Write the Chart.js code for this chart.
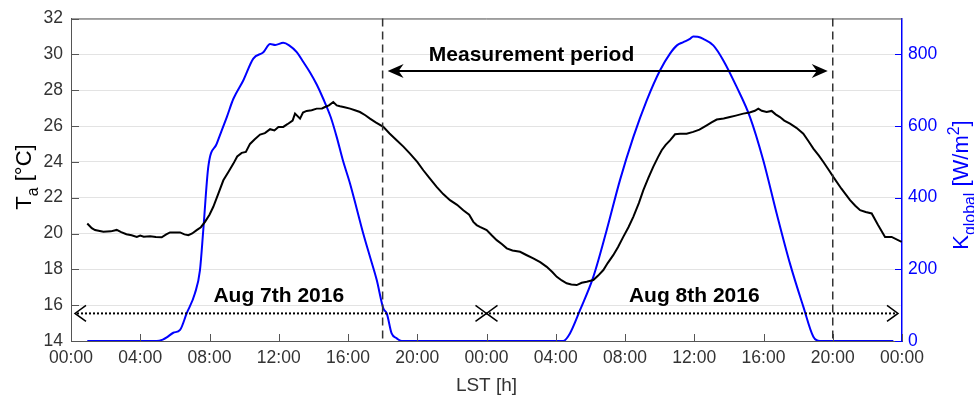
<!DOCTYPE html>
<html>
<head>
<meta charset="utf-8">
<script src="https://cdn.jsdelivr.net/npm/chart.js@4"></script>
<style>
  html, body { margin: 0; padding: 0; background: #fff; }
  #wrap { width: 974px; height: 395px; }
</style>
</head>
<body>
<div id="wrap"><canvas id="tempChart"></canvas></div>
<script>
// ---- data (hours since Aug 7th 00:00 LST) ----
const tempHours = [0.94, 1.2, 1.39, 1.87, 2.3, 2.64, 2.9, 3.2, 3.5, 3.8, 4.0, 4.2, 4.57, 4.9, 5.24, 5.5, 5.72, 6.3, 6.55, 6.78,
  7.0, 7.26, 7.5, 7.74, 8.0, 8.22, 8.5, 8.8, 9.1, 9.38, 9.6, 9.86, 10.1, 10.34, 10.6, 10.92, 11.2, 11.5, 11.75, 11.98,
  12.26, 12.5, 12.8, 12.94, 13.23, 13.4, 13.61, 13.9, 14.19, 14.5, 14.67, 14.9, 15.15, 15.35, 15.54, 15.8, 16.12, 16.4, 16.69, 17.0,
  17.27, 17.6, 18.04, 18.4, 18.81, 19.2, 19.58, 20.0, 20.35, 20.7, 21.12, 21.5, 21.89, 22.3, 22.66, 23.0, 23.24, 23.43, 23.62, 24.01,
  24.3, 24.59, 24.9, 25.17, 25.5, 25.94, 26.3, 26.7, 27.1, 27.48, 27.8, 28.06, 28.35, 28.63, 28.9, 29.21, 29.5, 29.79, 30.17, 30.45,
  30.75, 31.0, 31.32, 31.6, 31.9, 32.2, 32.48, 32.8, 33.06, 33.35, 33.63, 33.9, 34.12, 34.35, 34.6, 34.89, 35.18, 35.56, 35.94, 36.3,
  36.72, 37.0, 37.3, 37.7, 38.06, 38.4, 38.83, 39.2, 39.5, 39.7, 39.9, 40.18, 40.47, 40.7, 40.95, 41.2, 41.53, 41.9, 42.3, 42.6,
  42.88, 43.2, 43.46, 43.8, 44.03, 44.5, 45.0, 45.3, 45.58, 45.9, 46.25, 46.6, 47.02, 47.4, 47.98];
const tempVals = [20.56, 20.3, 20.19, 20.1, 20.12, 20.2, 20.08, 19.96, 19.9, 19.81, 19.88, 19.82, 19.85, 19.8, 19.79, 19.95, 20.06, 20.06, 19.95, 19.91,
  20.0, 20.19, 20.35, 20.65, 21.05, 21.49, 22.2, 22.97, 23.45, 23.9, 24.3, 24.5, 24.55, 25.0, 25.25, 25.52, 25.6, 25.82, 25.75, 25.95,
  25.95, 26.1, 26.3, 26.69, 26.41, 26.75, 26.84, 26.88, 26.97, 26.98, 27.06, 27.15, 27.34, 27.15, 27.1, 27.05, 26.97, 26.88, 26.78, 26.6,
  26.41, 26.2, 25.95, 25.58, 25.2, 24.85, 24.46, 24.0, 23.53, 23.1, 22.6, 22.2, 21.86, 21.6, 21.3, 21.05, 20.65, 20.47, 20.37, 20.19,
  19.9, 19.63, 19.4, 19.17, 19.05, 18.98, 18.8, 18.61, 18.4, 18.14, 17.85, 17.58, 17.38, 17.22, 17.15, 17.12, 17.25, 17.31, 17.4, 17.65,
  17.96, 18.35, 18.79, 19.25, 19.81, 20.35, 20.93, 21.7, 22.42, 23.1, 23.72, 24.25, 24.65, 24.95, 25.2, 25.54, 25.57, 25.57, 25.67, 25.8,
  26.04, 26.2, 26.36, 26.42, 26.5, 26.58, 26.69, 26.75, 26.85, 26.97, 26.85, 26.78, 26.84, 26.65, 26.5, 26.3, 26.13, 25.9, 25.57, 25.15,
  24.74, 24.35, 23.99, 23.5, 23.16, 22.5, 21.86, 21.55, 21.3, 21.2, 21.12, 20.5, 19.81, 19.81, 19.53];

const radHours = [0.94, 4.95, 5.3, 5.53, 5.91, 6.3, 6.68, 7.16, 7.45, 7.64, 7.93, 8.42, 9.0, 9.38, 9.95, 10.53, 11.11, 11.5, 11.8, 12.26,
  12.6, 13.04, 13.4, 13.8, 14.2, 14.57, 15.0, 15.35, 15.7, 16.12, 16.5, 16.88, 17.3, 17.66, 18.04, 18.24, 18.52, 18.8, 19.1,
  28.44, 28.82, 29.4, 30.17, 30.94, 31.71, 32.48, 33.25, 34.02, 34.6, 35.0, 35.37, 35.75, 35.94, 36.2, 36.52, 37.1, 37.68, 38.45, 39.22,
  39.99, 40.76, 41.53, 42.3, 42.88, 43.26, 47.5];
const radVals = [0, 0, 4, 10, 23, 31, 77, 133, 198, 309, 486, 551, 625, 676, 727, 788, 806, 829, 826, 832,
  825, 806, 780, 750, 715, 676, 625, 569, 505, 439, 370, 300, 230, 170, 91, 77, 21, 8, 0,
  0, 21, 86, 179, 309, 449, 569, 671, 755, 802, 825, 834, 843, 850, 849, 843, 825, 783, 709, 625,
  504, 356, 216, 96, 12, 0, 0];

const hourTicks = [0, 4, 8, 12, 16, 20, 24, 28, 32, 36, 40, 44, 48];
const tempTicks = [14, 16, 18, 20, 22, 24, 26, 28, 30, 32];
const radTicks = [0, 200, 400, 600, 800];

// annotation anchors (hours / deg C)
const periodStart = 18;
const periodEnd = 44;
const periodArrowT = 29.07;
const periodLabel = { text: 'Measurement period', h: 26.6, t: 29.62 };
const dayArrowT = 15.54;
const dayLabels = [
  { text: 'Aug 7th 2016', h: 12, t: 16.19 },
  { text: 'Aug 8th 2016', h: 36, t: 16.19 }
];

const axisGray = '#555';
const tickGray = '#333';
const kBlue = '#0000ff';
const fontFam = '"Liberation Sans", Arial, Helvetica, sans-serif';

function hhmm(v) {
  const h = v % 24;
  return (h < 10 ? '0' : '') + h + ':00';
}

// draw text made of normal / sub / sup parts, centred on 0, baseline at 0
function drawRich(ctx, parts, size, color) {
  const subSize = size * 0.72;
  let total = 0;
  parts.forEach(p => {
    ctx.font = (p.sub || p.sup ? subSize : size) + 'px ' + fontFam;
    p.w = ctx.measureText(p.t).width;
    total += p.w;
  });
  let x = -total / 2;
  ctx.fillStyle = color;
  ctx.textAlign = 'left';
  ctx.textBaseline = 'alphabetic';
  parts.forEach(p => {
    ctx.font = (p.sub || p.sup ? subSize : size) + 'px ' + fontFam;
    const dy = p.sub ? size * 0.3 : (p.sup ? -size * 0.42 : 0);
    ctx.fillText(p.t, x, dy);
    x += p.w;
  });
}

function openHead(ctx, x, y, dir) {
  ctx.beginPath();
  ctx.moveTo(x - dir * 11, y - 8);
  ctx.lineTo(x, y);
  ctx.lineTo(x - dir * 11, y + 8);
  ctx.stroke();
}

function filledHead(ctx, x, y, dir) {
  ctx.beginPath();
  ctx.moveTo(x, y);
  ctx.lineTo(x - dir * 16, y - 7);
  ctx.lineTo(x - dir * 11, y);
  ctx.lineTo(x - dir * 16, y + 7);
  ctx.closePath();
  ctx.fill();
}

const annotations = {
  id: 'annotations',
  afterDatasetsDraw(chart) {
    const { ctx, chartArea: a } = chart;
    const xs = chart.scales.x, ys = chart.scales.y, ks = chart.scales.y1;
    ctx.save();

    // top box edge
    ctx.strokeStyle = axisGray;
    ctx.lineWidth = 1;
    ctx.beginPath();
    ctx.moveTo(a.left, a.top + 0.5);
    ctx.lineTo(a.right, a.top + 0.5);
    ctx.stroke();

    // inward tick marks
    ctx.beginPath();
    hourTicks.forEach(v => {
      const px = Math.round(xs.getPixelForValue(v)) + 0.5;
      ctx.moveTo(px, a.bottom);
      ctx.lineTo(px, a.bottom - 7);
    });
    tempTicks.forEach(v => {
      const py = Math.round(ys.getPixelForValue(v)) + 0.5;
      ctx.moveTo(a.left, py);
      ctx.lineTo(a.left + 8, py);
    });
    ctx.stroke();
    ctx.strokeStyle = kBlue;
    ctx.beginPath();
    radTicks.forEach(v => {
      const py = Math.round(ks.getPixelForValue(v)) + 0.5;
      ctx.moveTo(a.right, py);
      ctx.lineTo(a.right - 7, py);
    });
    ctx.stroke();

    // measurement period boundaries
    ctx.strokeStyle = '#333';
    ctx.lineWidth = 1.5;
    ctx.setLineDash([8, 5]);
    [periodStart, periodEnd].forEach(h => {
      const px = xs.getPixelForValue(h);
      ctx.beginPath();
      ctx.moveTo(px, a.top);
      ctx.lineTo(px, a.bottom);
      ctx.stroke();
    });

    // measurement period arrow
    ctx.setLineDash([]);
    ctx.strokeStyle = '#000';
    ctx.fillStyle = '#000';
    ctx.lineWidth = 1.8;
    const py = ys.getPixelForValue(periodArrowT);
    const x1 = xs.getPixelForValue(periodStart) + 5;
    const x2 = xs.getPixelForValue(periodEnd) - 5;
    ctx.beginPath();
    ctx.moveTo(x1 + 8, py);
    ctx.lineTo(x2 - 8, py);
    ctx.stroke();
    filledHead(ctx, x1, py, -1);
    filledHead(ctx, x2, py, 1);

    // day arrows (dotted)
    const dy = ys.getPixelForValue(dayArrowT);
    const d0 = xs.getPixelForValue(0) + 4;
    const dm = xs.getPixelForValue(24);
    const d1 = xs.getPixelForValue(48) - 4;
    ctx.lineWidth = 2;
    ctx.setLineDash([2, 2]);
    ctx.beginPath();
    ctx.moveTo(d0 + 2, dy);
    ctx.lineTo(d1 - 2, dy);
    ctx.stroke();
    ctx.setLineDash([]);
    ctx.lineWidth = 1.5;
    openHead(ctx, d0, dy, -1);
    openHead(ctx, dm, dy, 1);
    openHead(ctx, dm, dy, -1);
    openHead(ctx, d1, dy, 1);

    // labels
    ctx.font = 'bold 21px ' + fontFam;
    ctx.textAlign = 'center';
    ctx.textBaseline = 'alphabetic';
    ctx.fillStyle = '#000';
    ctx.fillText(periodLabel.text, xs.getPixelForValue(periodLabel.h), ys.getPixelForValue(periodLabel.t));
    dayLabels.forEach(l => {
      ctx.fillText(l.text, xs.getPixelForValue(l.h), ys.getPixelForValue(l.t));
    });

    // axis titles
    ctx.save();
    ctx.translate((a.left + a.right) / 2, 391);
    drawRich(ctx, [{ t: 'LST [h]' }], 19, tickGray);
    ctx.restore();

    ctx.save();
    ctx.translate(31, 177);
    ctx.rotate(-Math.PI / 2);
    drawRich(ctx, [{ t: 'T' }, { t: 'a', sub: true }, { t: ' [°C]' }], 22, '#000');
    ctx.restore();

    ctx.save();
    ctx.translate(968, 185);
    ctx.rotate(-Math.PI / 2);
    drawRich(ctx, [{ t: 'K' }, { t: 'global', sub: true }, { t: ' [W/m' }, { t: '2', sup: true }, { t: ']' }], 22, kBlue);
    ctx.restore();

    ctx.restore();
  }
};

new Chart(document.getElementById('tempChart'), {
  type: 'line',
  data: {
    datasets: [
      {
        label: 'Ta',
        data: tempHours.map((h, i) => ({ x: h, y: tempVals[i] })),
        borderColor: '#000',
        borderWidth: 2,
        pointRadius: 0,
        tension: 0,
        yAxisID: 'y'
      },
      {
        label: 'Kglobal',
        data: radHours.map((h, i) => ({ x: h, y: radVals[i] })),
        borderColor: kBlue,
        borderWidth: 2,
        pointRadius: 0,
        cubicInterpolationMode: 'monotone',
        yAxisID: 'y1'
      }
    ]
  },
  options: {
    responsive: true,
    maintainAspectRatio: false,
    animation: false,
    layout: { padding: { top: 18 } },
    plugins: { legend: { display: false }, tooltip: { enabled: false } },
    scales: {
      x: {
        type: 'linear',
        min: 0,
        max: 48,
        afterBuildTicks: s => { s.ticks = hourTicks.map(v => ({ value: v })); },
        afterFit: s => { s.height = 54; },
        ticks: {
          callback: v => hhmm(v),
          color: tickGray,
          padding: 7,
          maxRotation: 0,
          autoSkip: false,
          font: { family: fontFam, size: 17.5 }
        },
        grid: { display: false, drawTicks: false },
        border: { color: axisGray, width: 1 }
      },
      y: {
        position: 'left',
        min: 14,
        max: 32,
        afterBuildTicks: s => { s.ticks = tempTicks.map(v => ({ value: v })); },
        afterFit: s => { s.width = 71; },
        ticks: { color: tickGray, padding: 8, font: { family: fontFam, size: 17.5 } },
        grid: { color: '#e3e3e3', lineWidth: 1, drawTicks: false },
        border: { color: axisGray, width: 1 }
      },
      y1: {
        position: 'right',
        min: 0,
        max: 900,
        afterBuildTicks: s => { s.ticks = radTicks.map(v => ({ value: v })); },
        afterFit: s => { s.width = 72; },
        ticks: { color: kBlue, padding: 6, font: { family: fontFam, size: 17.5 } },
        grid: { display: false, drawTicks: false },
        border: { color: kBlue, width: 1.5 }
      }
    }
  },
  plugins: [annotations]
});
</script>
</body>
</html>
